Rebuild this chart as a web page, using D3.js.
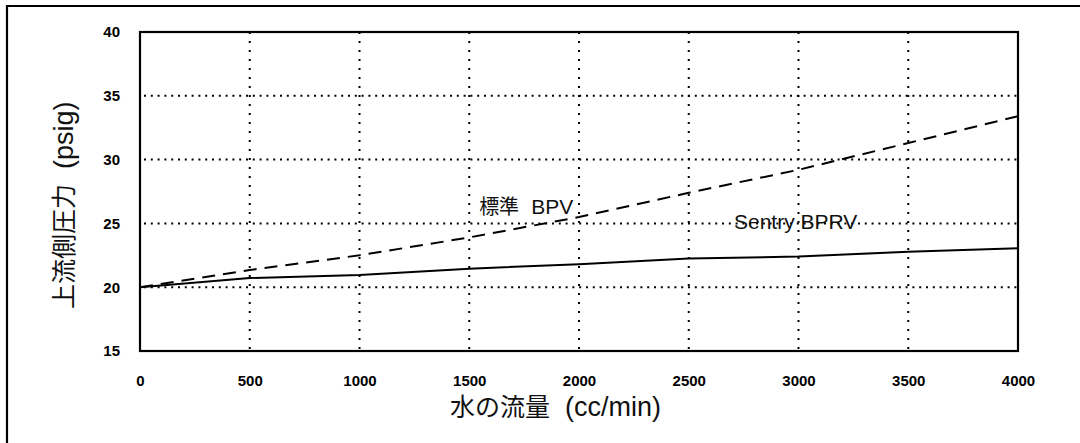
<!DOCTYPE html>
<html>
<head>
<meta charset="utf-8">
<script src="https://cdn.jsdelivr.net/npm/d3@7"></script>
<style>
  body { margin: 0; background: #fff; }
  svg { display: block; font-family: "Liberation Sans", Arial, sans-serif; }
</style>
</head>
<body>
<svg id="chart"></svg>
<script>
// data
const flowTicks = [0, 500, 1000, 1500, 2000, 2500, 3000, 3500, 4000];
const pressureTicks = [15, 20, 25, 30, 35, 40];
const flow = [0, 500, 1000, 1500, 2000, 2500, 3000, 3500, 4000];
const sentryBprv = [20.0, 20.72, 20.95, 21.45, 21.8, 22.25, 22.4, 22.78, 23.05];
const standardBpv = [20.0, 21.35, 22.5, 23.9, 25.5, 27.4, 29.2, 31.3, 33.4];

const outerW = 1080, outerH = 443;
const margin = { top: 32, right: 62, bottom: 92, left: 140 };
const W = outerW - margin.left - margin.right; const H = outerH - margin.top - margin.bottom;
const CJK = "'Noto Sans CJK JP', sans-serif";

const svg = d3.select("#chart").attr("width", outerW).attr("height", outerH);

// outer frame (only top and left edges are visible in the picture)
svg.append("path").attr("d", `M7,${outerH} V6 H${outerW}`).attr("fill", "none").attr("stroke", "#000").attr("stroke-width", 2.2);

const root = svg.append("g").attr("transform", `translate(${margin.left},${margin.top})`);

const x = d3.scaleLinear().domain([0, 4000]).range([0, W]);
const y = d3.scaleLinear().domain([15, 40]).range([H, 0]);

// dotted grid
root.append("g").selectAll("line").data(pressureTicks.slice(1, -1)).join("line")
  .attr("x1", 0).attr("x2", W).attr("y1", d => y(d)).attr("y2", d => y(d))
  .attr("stroke", "#000").attr("stroke-width", 2).attr("stroke-dasharray", "2,4.8").attr("stroke-dashoffset", -4);
root.append("g").selectAll("line").data(flowTicks.slice(1, -1)).join("line")
  .attr("x1", d => x(d)).attr("x2", d => x(d)).attr("y1", 0).attr("y2", H)
  .attr("stroke", "#000").attr("stroke-width", 2).attr("stroke-dasharray", "2,7");

// axes (labels only, frame drawn below)
const xAxis = root.append("g").attr("transform", `translate(0,${H})`)
  .call(d3.axisBottom(x).tickValues(flowTicks).tickSize(0).tickPadding(24).tickFormat(d3.format("d")));
const yAxis = root.append("g")
  .call(d3.axisLeft(y).tickValues(pressureTicks).tickSize(0).tickPadding(20).tickFormat(d3.format("d")));
[xAxis, yAxis].forEach(g => {
  g.select(".domain").remove();
  g.selectAll("text").attr("font-family", "'Liberation Sans', Arial, sans-serif").attr("font-weight", "bold").attr("font-size", 15).attr("fill", "#000");
});

// lines
const line = d3.line().x((d, i) => x(flow[i])).y(d => y(d));
root.append("path").datum(standardBpv).attr("d", line).attr("fill", "none").attr("stroke", "#000").attr("stroke-width", 2).attr("stroke-dasharray", "13,8");
root.append("path").datum(sentryBprv).attr("d", line).attr("fill", "none").attr("stroke", "#000").attr("stroke-width", 2);

// plot frame
root.append("rect").attr("width", W).attr("height", H).attr("fill", "none").attr("stroke", "#000").attr("stroke-width", 2.2);

// series labels
root.append("text").attr("x", x(2706)).attr("y", y(24.6)).attr("font-size", 21).attr("fill", "#111").text("Sentry BPRV");
const bpv = root.append("text").attr("x", x(1545)).attr("y", y(25.75)).attr("font-size", 20).attr("fill", "#111");
bpv.append("tspan").attr("font-family", CJK).text("標準");
bpv.append("tspan").attr("dx", 12).attr("font-size", 21).text("BPV");

// axis titles
const xt = svg.append("text").attr("x", 450).attr("y", 416).attr("fill", "#111");
xt.append("tspan").attr("font-family", CJK).attr("font-size", 25).text("水の流量");
xt.append("tspan").attr("dx", 15).attr("font-size", 27).text("(cc/min)");

const yt = svg.append("text").attr("transform", "translate(73,309) rotate(-90)").attr("fill", "#111");
yt.append("tspan").attr("font-family", CJK).attr("font-size", 25).text("上流側圧力");
yt.append("tspan").attr("dx", 15).attr("font-size", 27).text("(psig)");
</script>
</body>
</html>
